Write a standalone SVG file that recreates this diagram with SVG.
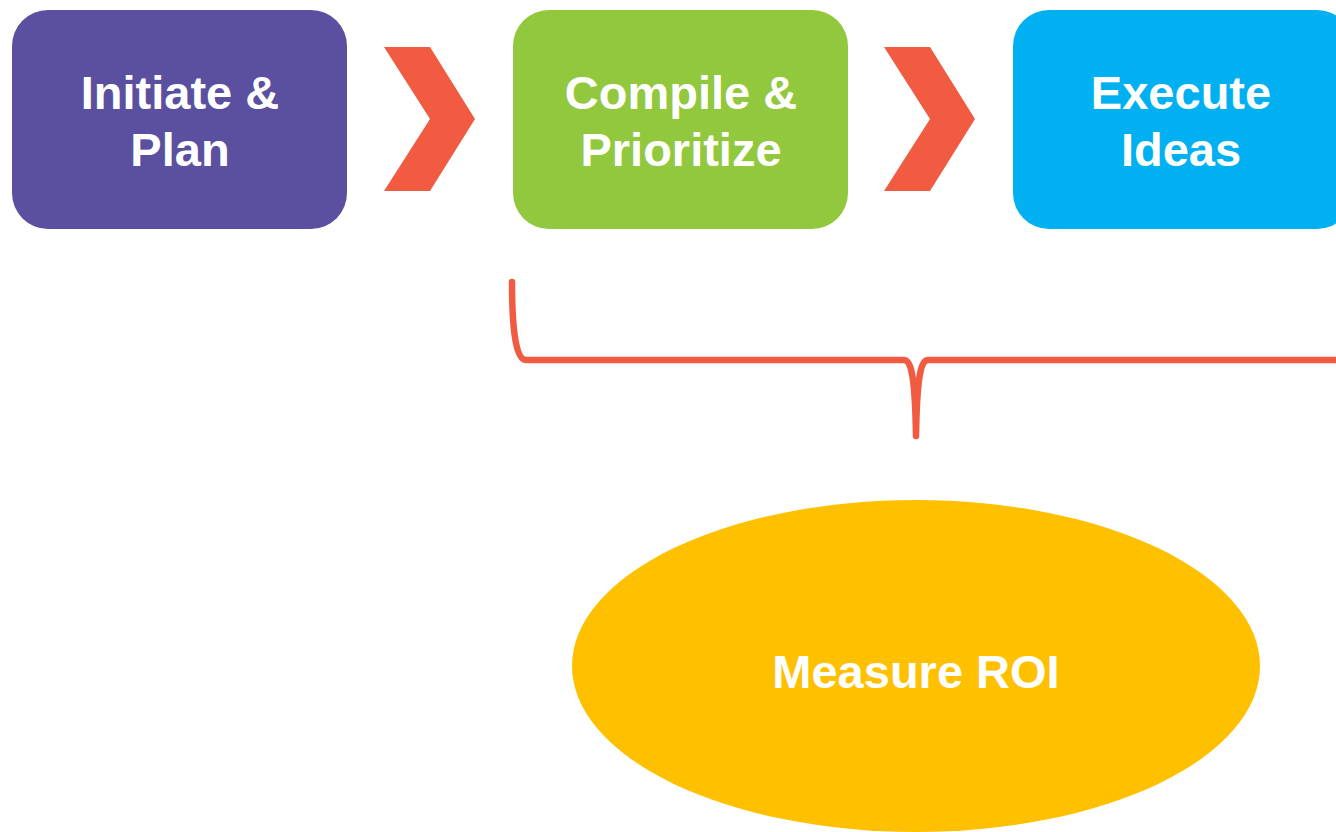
<svg xmlns="http://www.w3.org/2000/svg" width="1336" height="832" viewBox="0 0 1336 832">
<style>
.lbl{font-family:"Liberation Sans",Arial,sans-serif;font-weight:bold;font-size:47px;fill:#fff;text-anchor:middle}
.chev{fill:#F15B41}
</style>
<rect width="1336" height="832" fill="#fff"/>
<g id="node-initiate">
<rect x="12" y="10" width="335" height="219" rx="36" fill="#5B4F9F"/>
<text class="lbl" x="180" y="109">Initiate &amp;</text>
<text class="lbl" x="180" y="166">Plan</text>
</g>
<g id="node-compile">
<rect x="513" y="10" width="335" height="219" rx="36" fill="#92C83E"/>
<text class="lbl" x="681" y="109">Compile &amp;</text>
<text class="lbl" x="681" y="166">Prioritize</text>
</g>
<g id="node-execute">
<rect x="1013" y="10" width="340" height="219" rx="36" fill="#00B0F0"/>
<text class="lbl" x="1181" y="109">Execute</text>
<text class="lbl" x="1181" y="166">Ideas</text>
</g>
<g id="node-measure">
<ellipse cx="916" cy="666" rx="344" ry="166" fill="#FFC000"/>
<text class="lbl" x="916" y="688">Measure ROI</text>
</g>
<g id="connectors">
<polygon class="chev" points="384,47 430,47 475,119 430,191 384,191 430,119"/>
<polygon class="chev" points="884,47 930,47 975,119 930,191 884,191 930,119"/>
<path d="M512,282 C512,330 516,360 526,360 L904,360 C910,360 915,370 916,436 C917,370 922,360 928,360 L1336,360" fill="none" stroke="#F15B41" stroke-width="6.5" stroke-linecap="round" stroke-linejoin="round"/>
</g>
</svg>
